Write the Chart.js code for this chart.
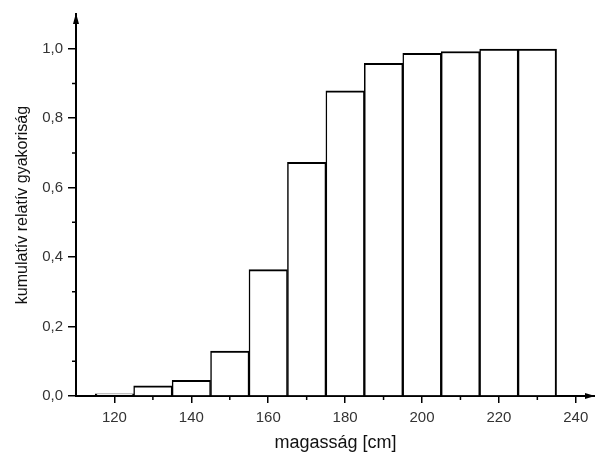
<!DOCTYPE html>
<html>
<head>
<meta charset="utf-8">
<script src="https://cdn.jsdelivr.net/npm/chart.js@4/dist/chart.umd.min.js"></script>
<style>
  html, body { margin: 0; padding: 0; background: #fff; }
  #wrap { width: 595px; height: 454px; }
</style>
</head>
<body>
<div id="wrap"><canvas id="c"></canvas></div>
<script>
// kumulatív relatív gyakoriság – osztályközepek (cm) és értékek
const classMids = [120, 130, 140, 150, 160, 170, 180, 190, 200, 210, 220, 230];
const cumFreq = [0.006, 0.029, 0.045, 0.129, 0.364, 0.673, 0.879, 0.958, 0.987, 0.992, 0.999, 0.999];

// tengelyfeliratok
const xTicks = [120, 140, 160, 180, 200, 220, 240];
const xMinor = [130, 150, 170, 190, 210, 230];
const yTicks = [0, 0.2, 0.4, 0.6, 0.8, 1.0];
const yMinor = [0.1, 0.3, 0.5, 0.7, 0.9];

const fontFam = '"Liberation Sans", Arial, sans-serif';

// kis beosztások + nyilak a tengelyek végén
const axisExtras = {
  id: 'axisExtras',
  afterDraw(chart) {
    const { ctx, chartArea: a } = chart;
    const xs = chart.scales.x, ys = chart.scales.y;
    ctx.save();
    ctx.strokeStyle = '#000';
    ctx.lineWidth = 1.5;
    ctx.beginPath();
    yMinor.forEach(v => {
      const y = ys.getPixelForValue(v);
      ctx.moveTo(a.left - 4, y); ctx.lineTo(a.left, y);
    });
    xMinor.forEach(v => {
      const x = xs.getPixelForValue(v);
      ctx.moveTo(x, a.bottom); ctx.lineTo(x, a.bottom + 4);
    });
    ctx.stroke();
    ctx.fillStyle = '#000';
    ctx.beginPath();
    ctx.moveTo(a.left, a.top - 1);
    ctx.lineTo(a.left - 3, a.top + 10);
    ctx.lineTo(a.left + 3, a.top + 10);
    ctx.closePath();
    ctx.fill();
    ctx.beginPath();
    ctx.moveTo(a.right, a.bottom);
    ctx.lineTo(a.right - 10, a.bottom - 3);
    ctx.lineTo(a.right - 10, a.bottom + 3);
    ctx.closePath();
    ctx.fill();
    ctx.restore();
  }
};

const last = classMids.length - 1;

new Chart(document.getElementById('c'), {
  type: 'bar',
  data: {
    datasets: [{
      data: classMids.map((m, i) => ({ x: m, y: cumFreq[i] })),
      backgroundColor: '#fff',
      borderColor: '#000',
      borderWidth: ctx => ({
        top: 2,
        left: ctx.dataIndex === 0 ? 2 : 1.5,
        right: ctx.dataIndex === last ? 2 : 1.5,
        bottom: ctx.dataIndex === 0 ? 2 : 0
      }),
      // az első, nagyon alacsony oszlop legyen tömör vonal
      borderSkipped: ctx => ctx.dataIndex === 0 ? false : 'start',
      barPercentage: 1,
      categoryPercentage: 1
    }]
  },
  options: {
    responsive: true,
    maintainAspectRatio: false,
    animation: false,
    layout: { padding: { top: 11, right: 0, left: 0, bottom: 0 } },
    plugins: { legend: { display: false }, tooltip: { enabled: false } },
    scales: {
      x: {
        type: 'linear',
        min: 110,
        max: 245,
        offset: false,
        afterBuildTicks: s => { s.ticks = xTicks.map(v => ({ value: v })); },
        afterFit: s => { s.height = 58; },
        border: { color: '#000', width: 2 },
        grid: { display: true, drawOnChartArea: false, drawTicks: true, tickLength: 7, color: '#000', lineWidth: 1.5, offset: false },
        ticks: { color: '#333', font: { family: fontFam, size: 15 }, padding: 6, maxRotation: 0 },
        title: { display: true, text: 'magasság [cm]', color: '#111', font: { family: fontFam, size: 18 }, padding: { top: 0, bottom: 0 } }
      },
      y: {
        min: 0,
        max: 1.1,
        afterBuildTicks: s => { s.ticks = yTicks.map(v => ({ value: v })); },
        afterFit: s => { s.width = 76; },
        border: { color: '#000', width: 2 },
        grid: { display: true, drawOnChartArea: false, drawTicks: true, tickLength: 8, color: '#000', lineWidth: 1.5 },
        ticks: { color: '#333', font: { family: fontFam, size: 15 }, padding: 5, callback: v => v.toFixed(1).replace('.', ',') },
        title: { display: true, text: 'kumulatív relatív gyakoriság', color: '#111', font: { family: fontFam, size: 16 }, padding: { top: 13, bottom: 0 } }
      }
    }
  },
  plugins: [axisExtras]
});
</script>
</body>
</html>
